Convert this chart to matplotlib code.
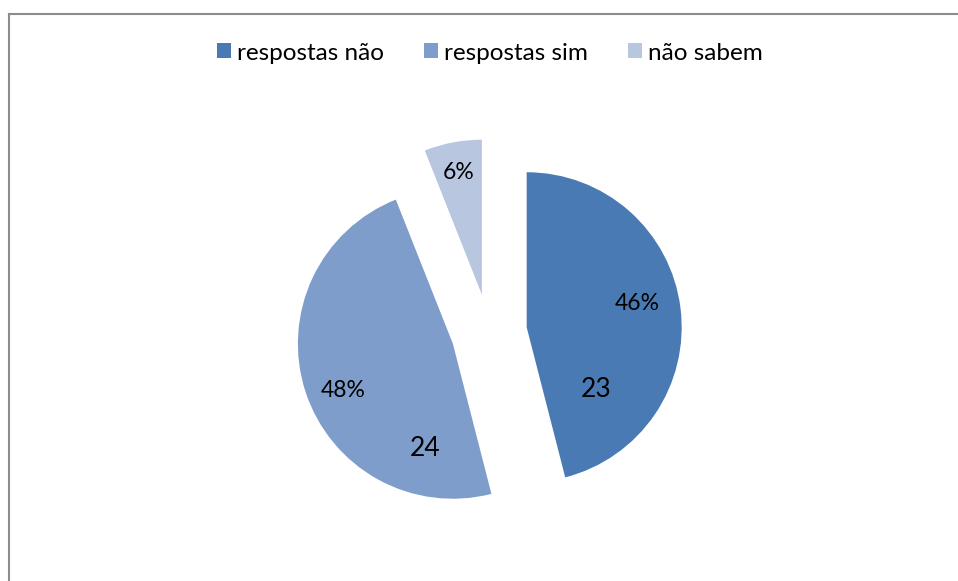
"""Exploded pie: respostas não / sim / não sabem."""

import matplotlib.pyplot as plt
import numpy as np
from matplotlib.lines import Line2D
from matplotlib.patches import Patch

# data
categories = ["respostas não", "respostas sim", "não sabem"]
counts = [23, 24, 3]
percent_labels = ["46%", "48%", "6%"]
count_labels = ["23", "24", ""]

colors = ["#4A7AB4", "#7F9DCA", "#B8C6E0"]
explode = 0.245

# label placement (clockwise degrees from 12 o'clock, fraction of radius from slice tip)
pct_pos = [(77.7, 0.73), (246.7, 0.77), (349, 0.80)]
cnt_pos = [(132, 0.60), (195, 0.70), None]

plt.rcParams["font.family"] = ["Lato", "DejaVu Sans"]

fig = plt.figure(figsize=(9.58, 5.81), dpi=100)
ax = fig.add_axes([179 / 958, 16.5 / 581, 620 / 958, 465 / 581])

wedges, _ = ax.pie(counts, colors=colors, startangle=90, counterclock=False,
                   explode=[explode] * len(counts), radius=1,
                   wedgeprops=dict(linewidth=0))
ax.set_xlim(-2, 2)
ax.set_ylim(-1.5, 1.5)
ax.set_aspect("equal")
ax.axis("off")


def polar(angle_cw, r):
    a = np.deg2rad(angle_cw)
    return r * np.sin(a), r * np.cos(a)


total = sum(counts)
start = 0.0
for i, c in enumerate(counts):
    span = 360.0 * c / total
    mid = start + span / 2
    tx, ty = polar(mid, explode)
    ang, rr = pct_pos[i]
    dx, dy = polar(ang, rr)
    ax.text(tx + dx, ty + dy, percent_labels[i], ha="center", va="center",
            fontsize=16.5, color="black")
    if cnt_pos[i] is not None and count_labels[i]:
        ang, rr = cnt_pos[i]
        dx, dy = polar(ang, rr)
        ax.text(tx + dx, ty + dy, count_labels[i], ha="center", va="center",
                fontsize=19, color="black")
    start += span

handles = [Patch(facecolor=col, edgecolor="none") for col in colors]
fig.legend(handles, categories, loc="center", bbox_to_anchor=(490 / 958, 1 - 53 / 581),
           ncol=3, frameon=False, fontsize=17.5, handlelength=0.58, handleheight=0.58,
           handletextpad=0.25, columnspacing=1.65)

# chart frame (left and top edges visible)
fig.add_artist(Line2D([8.5 / 958, 8.5 / 958], [0, 1 - 13.5 / 581], color="#8c8c8c",
                      linewidth=1.5, transform=fig.transFigure))
fig.add_artist(Line2D([8.5 / 958, 1], [1 - 13.5 / 581, 1 - 13.5 / 581], color="#8c8c8c",
                      linewidth=1.5, transform=fig.transFigure))

fig.savefig("out.png", dpi=100, facecolor="white")
